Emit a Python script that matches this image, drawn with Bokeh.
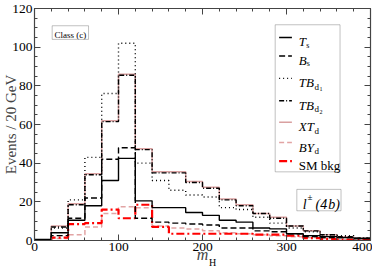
from bokeh.plotting import figure
from bokeh.models import Range1d, FixedTicker, LinearAxis, Label, BoxAnnotation, Arrow
from bokeh.embed import file_html
from bokeh.resources import INLINE

# ---- data (events per 20 GeV bin, m_H from 0 to 400) ----
bin_edges = list(range(0, 420, 20))
Ts   = [0.5, 4, 10.5, 18, 31, 42.5, 20.5, 17, 17, 14.5, 13, 10.5, 9.5, 6.5, 6, 3.5, 2.5, 2, 1.5, 1]
Bs   = [0, 2.5, 11.5, 22, 42, 48, 11.5, 9.5, 9, 8.5, 8, 6.5, 6.5, 5, 4.5, 3.5, 2, 1.5, 1.5, 1]
TBd1 = [0, 6.5, 21, 43, 76, 102, 40, 31, 26, 23.5, 22.5, 17, 16, 12, 9, 6.5, 4.5, 3, 2.5, 1.3]
TBd2 = [0, 7, 18.5, 34, 61.5, 85.5, 47, 35, 35, 30, 27, 21, 18, 14, 11.5, 7.5, 5, 3, 2, 1.2]
XTd  = [0, 7.5, 19, 34.5, 62, 86, 47.5, 35.5, 35.5, 30.5, 27.5, 21.5, 18.5, 14, 12, 7.5, 5, 3, 2, 1.2]
BYd  = [0, 1, 3, 7, 14, 17.5, 17, 7.5, 6.5, 6, 5, 4, 3.5, 3, 2.5, 2, 1.5, 1, 0.5, 0.3]
SM   = [0, 1.5, 8.5, 9, 16, 11.5, 18.5, 7, 3.5, 3.5, 3.5, 3.5, 3.5, 3, 3, 2.5, 1.2, 0.8, 0.5, 0.5]

x_major = [0, 100, 200, 300, 400]
x_minor = list(range(0, 420, 20))
y_major = [0, 20, 40, 60, 80, 100, 120]
y_minor = list(range(0, 125, 5))

SERIF = "Liberation Serif"

styles = {
    "XTd":  dict(line_color="#d9a0a0", line_width=1.5, line_dash="solid"),
    "TBd1": dict(line_color="black", line_width=1.4, line_dash="1 3"),
    "BYd":  dict(line_color="#e2a4a4", line_width=1.5, line_dash="5 3"),
    "SM":   dict(line_color="#ff0000", line_width=2.2, line_dash="8 3 2 3"),
    "Bs":   dict(line_color="black", line_width=1.4, line_dash="6 3"),
    "Ts":   dict(line_color="black", line_width=1.4, line_dash="solid"),
    "TBd2": dict(line_color="black", line_width=1.4, line_dash="5 2 1 2"),
}
data = {"Ts": Ts, "Bs": Bs, "TBd1": TBd1, "TBd2": TBd2, "XTd": XTd, "BYd": BYd, "SM": SM}
draw_order = ["XTd", "BYd", "SM", "TBd1", "Bs", "Ts", "TBd2"]

W, H = 372, 270
p = figure(width=W, height=H, x_range=Range1d(0, 400), y_range=Range1d(0, 120),
           output_backend="svg", toolbar_location=None,
           min_border_left=28, min_border_right=2, min_border_top=8, min_border_bottom=29)
p.grid.visible = False
p.outline_line_color = None
p.background_fill_color = "white"

for name in draw_order:
    vals = data[name]
    p.step(x=bin_edges, y=vals + [vals[-1]], mode="after", **styles[name])

bottom_ax = p.below[0]
left_ax = p.left[0]
top_ax = LinearAxis()
right_ax = LinearAxis()
p.add_layout(top_ax, "above")
p.add_layout(right_ax, "right")

def style_axis(ax, major, minor, labels):
    ax.ticker = FixedTicker(ticks=major, minor_ticks=minor)
    ax.major_tick_in = 6
    ax.major_tick_out = 0
    ax.minor_tick_in = 3
    ax.minor_tick_out = 0
    ax.axis_line_color = "#444444"
    ax.major_tick_line_color = "#444444"
    ax.minor_tick_line_color = "#444444"
    ax.axis_line_width = 1.2
    ax.major_label_text_font = SERIF
    ax.major_label_text_font_size = "13.5px"
    ax.major_label_text_color = "black"
    ax.major_label_standoff = 2
    if not labels:
        ax.major_label_text_font_size = "1px"
        ax.major_label_text_color = None
        ax.major_label_standoff = 0

style_axis(bottom_ax, x_major, x_minor, True)
style_axis(left_ax, y_major, y_minor, True)
style_axis(top_ax, x_major, x_minor, False)
style_axis(right_ax, y_major, y_minor, False)

left_ax.axis_label = "Events / 20 GeV"
left_ax.axis_label_text_font = SERIF
left_ax.axis_label_text_font_size = "15px"
left_ax.axis_label_text_font_style = "normal"
left_ax.axis_label_standoff = -10

bottom_ax.axis_label = "m"
bottom_ax.axis_label_text_font = SERIF
bottom_ax.axis_label_text_font_size = "16px"
bottom_ax.axis_label_text_font_style = "italic"
bottom_ax.axis_label_standoff = -8

# subscript H of the x title: a label-only axis stacked under the main x axis
h_ax = LinearAxis()
h_ax.ticker = FixedTicker(ticks=[212], minor_ticks=[])
h_ax.major_label_overrides = {212: "H"}
h_ax.major_tick_in = 0
h_ax.major_tick_out = 0
h_ax.axis_line_color = None
h_ax.major_tick_line_color = None
h_ax.major_label_standoff = -9
h_ax.major_label_text_font = SERIF
h_ax.major_label_text_font_size = "10px"
h_ax.major_label_text_color = "black"
p.add_layout(h_ax, "below")

# positions (pixels) -> data units of the reference axes
def dx(xref):
    return (xref - 36) / 0.855
def dy(yref):
    return (243.5 - yref) / 1.985

def label(xref, yref, text, size, style="normal", align="left", yoff=0):
    p.add_layout(Label(x=dx(xref), y=dy(yref), y_offset=-yoff, text=text,
                       text_font=SERIF, text_font_size=size, text_font_style=style,
                       text_align=align, text_baseline="alphabetic", text_color="black"))

def box(l, t, r, b):
    p.add_layout(BoxAnnotation(left=dx(l), right=dx(r), top=dy(t), bottom=dy(b),
                               fill_color="white", fill_alpha=1.0,
                               line_color="#333333", line_width=1))

# Class (c) box
box(54, 23, 91, 37)
label(72.5, 33, "Class (c)", "9px", align="center")

# l± (4b) box
box(303, 191, 348, 213)
label(309, 207, "l", "14px", style="italic")
label(314, 199, "\u00b1", "9px")
label(322, 207, "(4", "14px", style="italic")
label(335, 207, "b)", "14px", style="italic")

# legend
box(281, 22, 347, 173)
legend_rows = [
    ("Ts",   35,  [("T", 0, "13px", "italic", 0), ("s", 7.5, "8px", "normal", 3.5)]),
    ("Bs",   54,  [("B", 0, "13px", "italic", 0), ("s", 8, "8px", "normal", 3.5)]),
    ("TBd1", 77,  [("TB", 0, "13px", "italic", 0), ("d", 16, "9px", "normal", 4), ("1", 21, "6px", "normal", 6.5)]),
    ("TBd2", 100, [("TB", 0, "13px", "italic", 0), ("d", 16, "9px", "normal", 4), ("2", 21, "6px", "normal", 6.5)]),
    ("XTd",  122, [("XT", 0, "13px", "italic", 0), ("d", 16, "9px", "normal", 4)]),
    ("BYd",  143, [("BY", 0, "13px", "italic", 0), ("d", 16, "9px", "normal", 4)]),
    ("SM",   162, [("SM bkg", 0, "13px", "normal", 0)]),
]
for name, yrow, parts in legend_rows:
    st = styles[name]
    p.add_layout(Arrow(x_start=dx(285), y_start=dy(yrow), x_end=dx(298), y_end=dy(yrow),
                       start=None, end=None,
                       line_color=st["line_color"], line_width=st["line_width"],
                       line_dash=st["line_dash"]))
    for txt, xo, size, fstyle, yo in parts:
        label(305 + xo, yrow, txt, size, style=fstyle, yoff=4.5 + yo)

open("out.html", "w").write(file_html(p, INLINE))
